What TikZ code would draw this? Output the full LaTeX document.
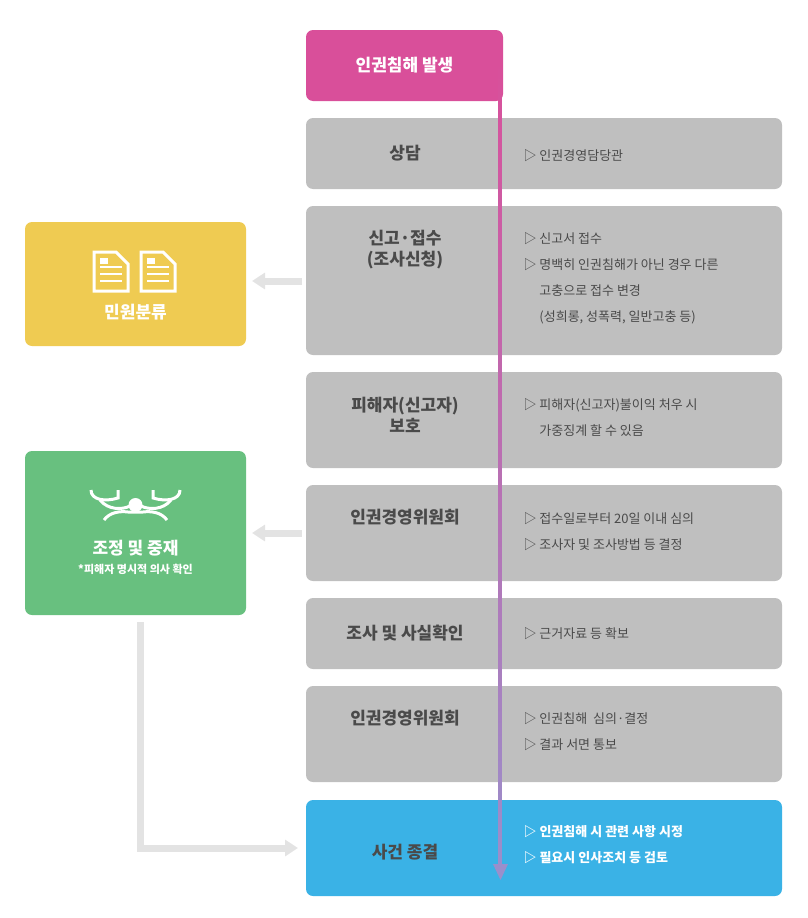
\documentclass[tikz,border=0pt]{standalone}
\usepackage{fontspec}
\setmainfont{Noto Sans CJK KR}
\usetikzlibrary{positioning,calc,arrows.meta}
\definecolor{pinkbox}{HTML}{D94F9A}
\definecolor{graybox}{HTML}{BFBFBF}
\definecolor{yellowbox}{HTML}{EFCB52}
\definecolor{greenbox}{HTML}{68C07F}
\definecolor{bluebox}{HTML}{3AB2E6}
\definecolor{darktxt}{HTML}{4A4A4A}
\definecolor{flowend}{HTML}{9A8FCB}
\definecolor{linkgray}{HTML}{E3E3E3}
\tikzset{
  stagebox/.style={rounded corners=7pt, fill=graybox, inner sep=0pt},
  stagetitle/.style={font=\bfseries\fontsize{17}{21}\selectfont, text=darktxt, align=center},
  stagenote/.style={font=\fontsize{13}{26}\selectfont, text=darktxt, align=left, anchor=west},
  sidebox/.style={rounded corners=7pt, inner sep=0pt},
  link/.style={linkgray, line width=7pt},
}
\begin{document}
\begin{tikzpicture}[x=1pt,y=-1pt]
\useasboundingbox (0,0) rectangle (808,918);
% flow boxes
\fill[pinkbox,rounded corners=7pt] (306,30) rectangle (503,101);
\node[font=\bfseries\fontsize{17}{21}\selectfont, text=white] (start) at (404.5,65.5) {인권침해 발생};
\fill[stagebox] (306,118) rectangle (782,189);
\node[stagetitle] (s1) at (405,153.5) {상담};
\node[stagenote] (n1) at (520,156) {▷ 인권경영담당관};
\fill[stagebox] (306,206) rectangle (782,355);
\node[stagetitle] (s2) at (405,250) {신고·접수\\(조사신청)};
\node[stagenote] (n2) at (520,278) {▷ 신고서 접수\\▷ 명백히 인권침해가 아닌 경우 다른\\\phantom{▷ }고충으로 접수 변경\\\phantom{▷ }(성희롱, 성폭력, 일반고충 등)};
\fill[stagebox] (306,372) rectangle (782,468);
\node[stagetitle] (s3) at (405,415) {피해자(신고자)\\보호};
\node[stagenote] (n3) at (520,418) {▷ 피해자(신고자)불이익 처우 시\\\phantom{▷ }가중징계 할 수 있음};
\fill[stagebox] (306,485) rectangle (782,581);
\node[stagetitle] (s4) at (405,517) {인권경영위원회};
\node[stagenote] (n4) at (520,532) {▷ 접수일로부터 20일 이내 심의\\▷ 조사자 및 조사방법 등 결정};
\fill[stagebox] (306,598) rectangle (782,669);
\node[stagetitle] (s5) at (405,633.5) {조사 및 사실확인};
\node[stagenote] (n5) at (520,633.5) {▷ 근거자료 등 확보};
\fill[stagebox] (306,686) rectangle (782,782);
\node[stagetitle] (s6) at (405,718) {인권경영위원회};
\node[stagenote] (n6) at (520,732) {▷ 인권침해\ \ 심의·결정\\▷ 결과 서면 통보};
\fill[bluebox,rounded corners=7pt] (306,800) rectangle (782,896);
\node[stagetitle] (s7) at (405,852) {사건 종결};
\node[stagenote, text=white, font=\bfseries\fontsize{13}{26}\selectfont] (n7) at (520,845) {▷ 인권침해 시 관련 사항 시정\\▷ 필요시 인사조치 등 검토};
% side boxes
\fill[yellowbox,sidebox] (25,222) rectangle (246,346);
\node[font=\bfseries\fontsize{17}{21}\selectfont, text=white] (sort) at (135.5,312) {민원분류};
\foreach \dx in {0,47} {
  \draw[white, line width=3pt, line join=miter] (94+\dx,252) -- (116+\dx,252) -- (128+\dx,264) -- (128+\dx,291) -- (94+\dx,291) -- cycle;
  \fill[white] (100+\dx,258) rectangle (108+\dx,264);
  \foreach \yy in {267,274,281} \draw[white, line width=2.5pt] (100+\dx,\yy) -- (122+\dx,\yy);
}
\fill[greenbox,sidebox] (25,451) rectangle (246,615);
\node[font=\bfseries\fontsize{17}{21}\selectfont, text=white] (mediate) at (135.5,548) {조정 및 중재};
\node[font=\bfseries\fontsize{11}{14}\selectfont, text=white, below=1pt of mediate] (mnote) {*피해자 명시적 의사 확인};
% scale icon
\begin{scope}[white, line width=3pt]
  \draw (91,490) .. controls (91,500) and (105,502) .. (118,498) -- (118,490);
  \draw (180,490) .. controls (180,500) and (166,502) .. (153,498) -- (153,490);
  \draw (100,500) .. controls (108,510) and (122,510) .. (130,506) -- (141,506) .. controls (149,510) and (163,510) .. (171,500);
  \fill (135.5,505) circle (7pt);
  \draw (104,520) .. controls (110,512) and (120,511) .. (128,512) -- (143,512) .. controls (151,511) and (161,512) .. (167,520);
\end{scope}
% connectors
\coordinate (t2) at (302,281);
\coordinate (t4) at (302,533);
\draw[link, -{Triangle[length=13pt,width=16pt]}] (t2) -- (252,281);
\draw[link, -{Triangle[length=13pt,width=16pt]}] (t4) -- (252,533);
\coordinate (lb) at (140,622);
\draw[link, -{Triangle[length=13pt,width=16pt]}] (lb) |- (298,848);
% main flow
\shade[top color=pinkbox, bottom color=flowend] (498.5,60) rectangle (501.5,868);
\fill[flowend] (493,864) -- (508,864) -- (500.5,880) -- cycle;
\end{tikzpicture}
\end{document}
